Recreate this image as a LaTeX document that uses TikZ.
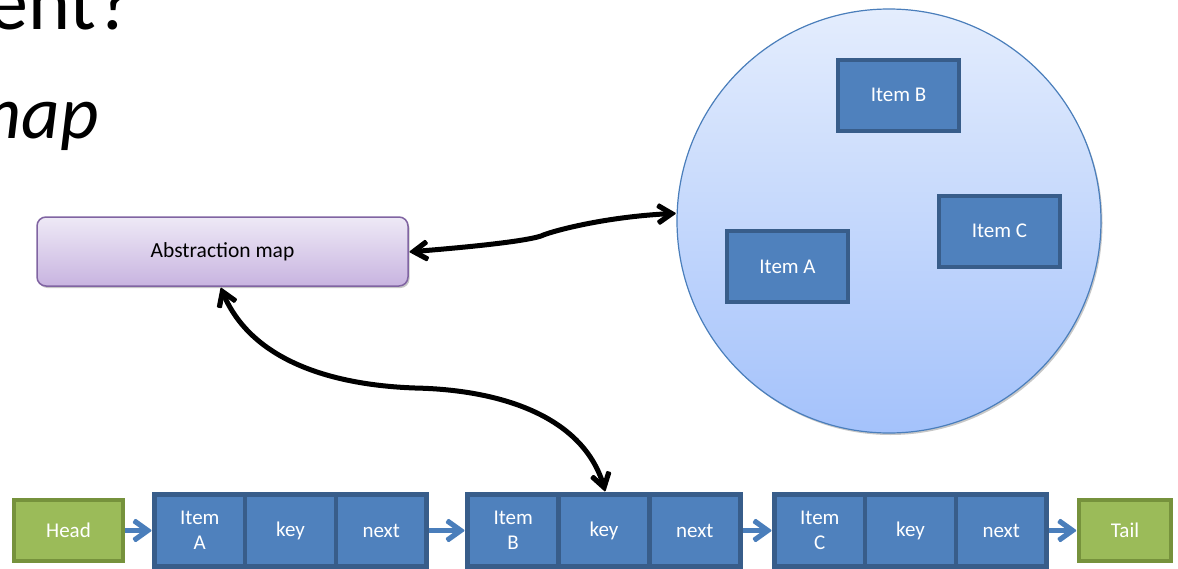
\documentclass[tikz,border=0pt]{standalone}
\usepackage{fontspec}
\setmainfont{Carlito}
\usetikzlibrary{shadows,decorations.markings}

\definecolor{itemfill}{HTML}{4F81BD}
\definecolor{itemedge}{HTML}{385D8A}
\definecolor{endfill}{HTML}{9BBB59}
\definecolor{endedge}{HTML}{76923C}
\definecolor{maptop}{HTML}{EEE9F6}
\definecolor{mapbottom}{HTML}{C8B4E0}
\definecolor{mapedge}{HTML}{8064A2}
\definecolor{pooltop}{HTML}{E4EDFD}
\definecolor{poolbottom}{HTML}{A4C2FB}
\definecolor{pooledge}{HTML}{4A7EBB}
\definecolor{linkblue}{HTML}{4A7EBB}

% filled open-chevron heads, tip at (5pt,0) in the path's local frame
\newcommand\relchev{\fill[black, rounded corners=1pt]
  (5pt,0pt) -- (-12.4pt,11.19pt) -- (-15.22pt,6.81pt) -- (-4.62pt,0pt)
  -- (-15.22pt,-6.81pt) -- (-12.4pt,-11.19pt) -- cycle;}
\newcommand\linkchev{\fill[linkblue, rounded corners=1pt]
  (5pt,0pt) -- (-11.96pt,12.12pt) -- (-14.98pt,7.88pt) -- (-3.94pt,0pt)
  -- (-14.98pt,-7.88pt) -- (-11.96pt,-12.12pt) -- cycle;}

\tikzset{
  softshadow/.style={drop shadow={shadow xshift=1.5pt, shadow yshift=-2pt, opacity=0.22, fill=black}},
  labeltext/.style={font=\fontsize{21}{25}\selectfont, align=center},
  itembox/.style={draw=itemedge, fill=itemfill, line width=4pt, text=white,
    minimum width=121pt, minimum height=71pt, inner sep=0pt, labeltext},
  cellbox/.style={draw=itemedge, fill=itemfill, line width=4.5pt, text=white,
    minimum width=90.7pt, minimum height=72pt, inner sep=0pt, labeltext},
  endbox/.style={draw=endedge, fill=endfill, line width=4pt, text=white,
    minimum height=61pt, inner sep=0pt, labeltext, softshadow},
  linkarrow/.style={draw=linkblue, line width=4.5pt, postaction={decorate},
    decoration={markings, mark=at position 0.9999 with {\linkchev}}},
  relation/.style={draw=black, line width=5pt, postaction={decorate},
    decoration={markings,
      mark=at position 0 with {\begin{scope}[xscale=-1]\relchev\end{scope}},
      mark=at position 0.9999 with {\relchev}}},
}

\begin{document}
\begin{tikzpicture}[x=1pt, y=-1pt]
\useasboundingbox (0,0) rectangle (1178,568);

% slide text running in from the left edge
\node[anchor=base east, inner sep=0pt, font=\fontsize{80}{96}\selectfont] (title) at (134,29) {ent?};
\node[anchor=base east, inner sep=0pt, font=\fontsize{75}{90}\selectfont\itshape] (subtitle) at (99,138) {map};

% the abstract set of items
\node[circle, draw=pooledge, line width=1.2pt, top color=pooltop, bottom color=poolbottom,
      minimum size=424pt, inner sep=0pt, softshadow] (pool) at (889,221) {};
\node[itembox] (setB) at (898.5,95) {Item B};
\node[itembox] (setC) at (999.5,231) {Item C};
\node[itembox] (setA) at (787.5,266.5) {Item A};

% abstraction map box
\node[draw=mapedge, line width=1.5pt, rounded corners=9pt, top color=maptop, bottom color=mapbottom,
      minimum width=371pt, minimum height=69pt, inner sep=0pt, softshadow,
      font=\fontsize{21.5}{25}\selectfont] (abs) at (222.5,251.5) {Abstraction map};

% concrete linked list
\node[endbox, minimum width=109pt] (head) at (68.5,530.5) {Head};
\node[endbox, minimum width=92pt] (tail) at (1125,530.5) {Tail};

\node[cellbox, softshadow] (recA) at (290.5,530.5) [minimum width=272pt] {};
\node[cellbox] (recAitem) at (199.8,530.5) {Item\\A};
\node[cellbox] (recAkey) at (290.5,530.5) {key};
\node[cellbox] (recAnext) at (381.2,530.5) {next};

\node[cellbox, softshadow] (recB) at (604,530.5) [minimum width=273pt] {};
\node[cellbox] (recBitem) at (513.2,530.5) {Item\\B};
\node[cellbox] (recBkey) at (604,530.5) {key};
\node[cellbox] (recBnext) at (694.8,530.5) {next};

\node[cellbox, softshadow] (recC) at (910.5,530.5) [minimum width=272pt] {};
\node[cellbox] (recCitem) at (819.8,530.5) {Item\\C};
\node[cellbox] (recCkey) at (910.5,530.5) {key};
\node[cellbox] (recCnext) at (1001.2,530.5) {next};

% list links
\draw[linkarrow] (head.east) -- ([xshift=-5pt]recA.west);
\draw[linkarrow] (recA.east) -- ([xshift=-5pt]recB.west);
\draw[linkarrow] (recB.east) -- ([xshift=-5pt]recC.west);
\draw[linkarrow] (recC.east) -- ([xshift=-5pt]tail.west);

% relations through the abstraction map
\coordinate (kink) at (541,236);
\draw[relation] ([xshift=5pt]abs.east) .. controls +(76,-6) and +(-12,4) .. (kink)
  .. controls +(8,-4) and +(-68,3) .. ([xshift=-5pt]pool.178.4);
\coordinate (sag) at (415,388);
\draw[relation] ([yshift=-5pt]abs.south) .. controls +(27,68) and +(-85,-3) .. (sag)
  .. controls +(95,2) and +(-18,-66) .. ([yshift=5pt]recBkey.north);
\end{tikzpicture}
\end{document}
